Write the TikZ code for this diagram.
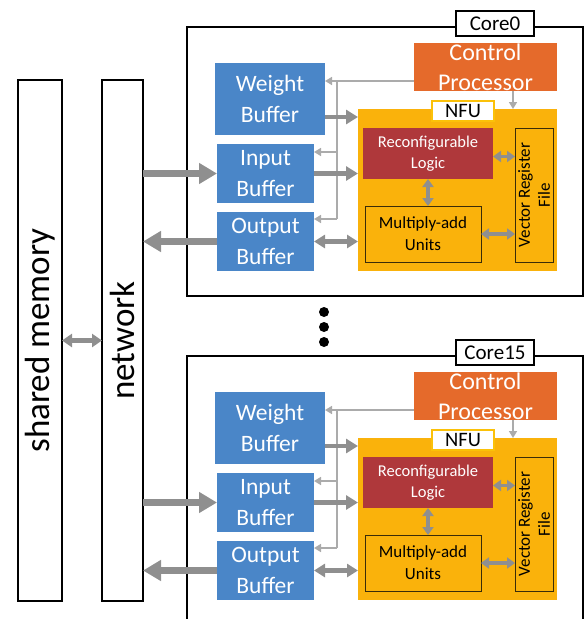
\documentclass[tikz,border=0pt]{standalone}
\usepackage{fontspec}
\setmainfont{Carlito}
\usetikzlibrary{arrows.meta}
\definecolor{bufblue}{HTML}{4A86C8}
\definecolor{cporange}{HTML}{E56A2B}
\definecolor{nfugold}{HTML}{FAB20B}
\definecolor{logicred}{HTML}{AF383B}
\definecolor{unitline}{HTML}{3A2C08}
\definecolor{arrgray}{HTML}{8F8F8F}
\definecolor{ctlgray}{HTML}{ABABAB}
\newcommand{\fs}[2]{\fontsize{#1}{#2}\selectfont}
\tikzset{
  every node/.style={inner sep=0pt, outer sep=0pt},
  bar/.style={draw, line width=1.5pt, fill=white, rotate=90, minimum width=521pt, font=\fs{35}{40}},
  corebox/.style={draw, line width=1.8pt, minimum width=396pt, minimum height=269pt},
  corelabel/.style={draw, line width=1.3pt, fill=white, minimum width=78pt, minimum height=25pt, font=\fs{21}{24}},
  buf/.style={fill=bufblue, text=white, align=center, minimum width=97pt, minimum height=59pt, font=\fs{23.5}{31}},
  cpbox/.style={fill=cporange, text=white, align=center, minimum width=143pt, minimum height=48pt, font=\fs{24}{30}},
  nfubox/.style={fill=nfugold, minimum width=199pt, minimum height=162pt},
  nfulabel/.style={draw=nfugold!80!yellow, line width=1.2pt, fill=white, minimum width=62pt, minimum height=20pt, font=\fs{20.5}{24}},
  logic/.style={fill=logicred, text=white, align=center, minimum width=130pt, minimum height=51pt, font=\fs{16.5}{21}},
  unit/.style={draw=unitline, line width=1pt, fill=nfugold, align=center, font=\fs{17}{22}},
  dot/.style={circle, fill=black, minimum size=10pt},
  % connectors
  netarr/.style={draw=arrgray, line width=7pt, -{Triangle[length=18pt,width=20pt]}},
  fat/.style={draw=arrgray, line width=4.5pt, -{Triangle[length=12pt,width=14pt]}},
  fatboth/.style={draw=arrgray, line width=4.5pt, {Triangle[length=11pt,width=13pt]}-{Triangle[length=11pt,width=13pt]}},
  small/.style={draw=arrgray, line width=3.5pt, {Triangle[length=8pt,width=11pt]}-{Triangle[length=8pt,width=11pt]}},
  ctl/.style={draw=ctlgray, line width=1.6pt},
  ctlarr/.style={ctl, -{Triangle[length=7pt,width=8pt]}}
}

\begin{document}
\begin{tikzpicture}[x=1pt, y=-1pt]
\useasboundingbox (0,0) rectangle (584,619);

% memory side (rotated: south = right side, north = left side)
\node[bar, minimum height=44pt] (sm) at (40,340.5) {shared memory};
\node[bar, minimum height=41pt] (nw) at (122.5,340.5) {network};
\draw[draw=arrgray, line width=4.5pt, {Triangle[length=10pt,width=13pt]}-{Triangle[length=10pt,width=13pt]}] (sm.south) -- (nw.north);

% the cores
\foreach \o/\name/\k in {0/Core0/a, 329/Core15/b} {
  \begin{scope}[shift={(0,\o)}]
    \node[corebox] (core\k) at (385,161.5) {};
    \node[corelabel] (lbl\k) at (495,23.5) {\name};

    \node[cpbox] (cp\k) at (485.5,67) {Control\\Processor};
    \node[buf, minimum width=110pt, minimum height=72pt] (wb\k) at (270,99) {Weight\\Buffer};
    \node[buf] (ib\k) at (265.5,173.5) {Input\\Buffer};
    \node[buf] (ob\k) at (265.5,241.5) {Output\\Buffer};

    \node[nfubox] (nfu\k) at (457.5,190) {};
    \node[nfulabel] (nl\k) at (463,111) {NFU};
    \node[logic] (rl\k) at (428,153.5) {Reconfigurable\\Logic};
    \node[unit, minimum width=116pt, minimum height=56pt] (mu\k) at (423,234) {Multiply-add\\Units};
    \node[unit, rotate=90, minimum width=134pt, minimum height=38pt, font=\fs{17}{20}] (vrf\k) at (534,195) {Vector Register\\File};

    % control bus
    \coordinate (bt\k) at (337,81);
    \coordinate (bm\k) at (337,152);
    \coordinate (bb\k) at (337,219);
    \draw[ctl] (cp\k.west |- bt\k) -- (bt\k) -- (bb\k);
    \draw[ctlarr] (bt\k) -- (wb\k.east |- bt\k);
    \draw[ctlarr] (bm\k) -- (ib\k.east |- bm\k);
    \draw[ctlarr] (bb\k) -- (ob\k.east |- bb\k);
    \draw[ctlarr] (cp\k.south -| 513,0) -- (nfu\k.north -| 513,0);

    % data paths
    \coordinate (rv\k) at ([yshift=-3pt]rl\k.east);
    \draw[fat] (wb\k.east |- 0,117) -- (nfu\k.west |- 0,117);
    \draw[fat] (ib\k.east) -- (nfu\k.west |- ib\k.east);
    \draw[fatboth] (ob\k.east) -- (nfu\k.west |- ob\k.east);
    \draw[small] (rv\k) -- (vrf\k.north |- rv\k);
    \draw[small] (rl\k.south) -- (mu\k.north -| rl\k.south);
    \draw[small] (mu\k.east) -- (vrf\k.north |- mu\k.east);

    % to and from the network
    \draw[netarr] (nw.south |- ib\k.west) -- (ib\k.west);
    \draw[netarr] (ob\k.west) -- (nw.south |- ob\k.west);
  \end{scope}
}

% more cores in between
\foreach \d [count=\i] in {312,327,342}
  \node[dot] (dot\i) at (324,\d) {};
\end{tikzpicture}
\end{document}
